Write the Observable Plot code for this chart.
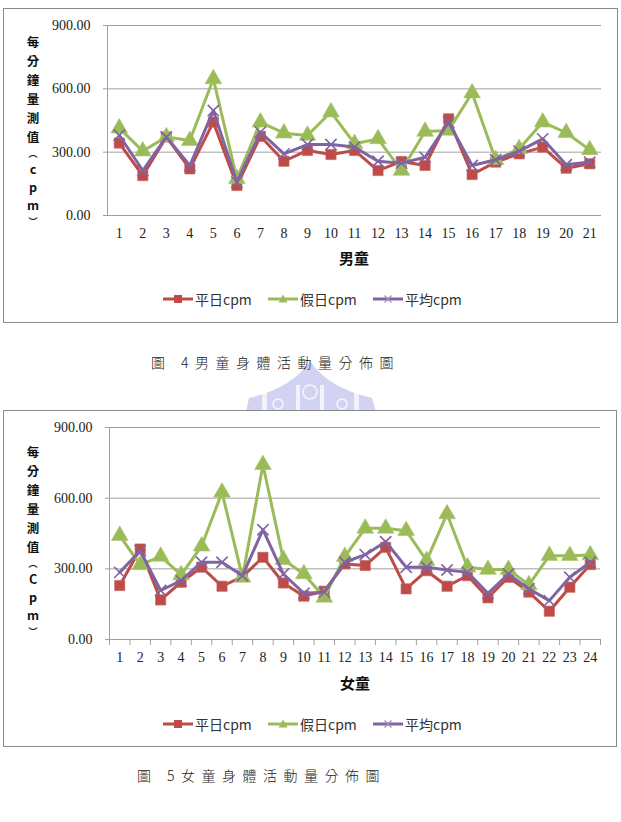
<!DOCTYPE html>
<html>
<head>
<meta charset="utf-8">
<script src="https://cdn.jsdelivr.net/npm/d3@7"></script>
<script src="https://cdn.jsdelivr.net/npm/@observablehq/plot@0.6"></script>
<style>
  html, body { margin: 0; padding: 0; background: #fff; }
  body { width: 621px; height: 822px; position: relative; overflow: hidden; font-family: "Noto Sans CJK TC", "Noto Sans", sans-serif; }
  .frame { position: absolute; border: 1px solid #8a8a8a; box-sizing: border-box; }
  .ych { position: absolute; font-size: 12.5px; font-weight: bold; color: #111; line-height: 1; transform: translate(-50%, -50%); }
  .ych.p { font-size: 9px; }
  .xlab { position: absolute; font-size: 15px; font-weight: bold; color: #111; transform: translateX(-50%); }
  .leg { position: absolute; display: flex; align-items: center; font-size: 14px; color: #333; }
  .leg svg { display: block; }
  .cap { position: absolute; font-size: 14px; font-weight: 300; letter-spacing: 6.5px; color: #222; white-space: nowrap; }
</style>
</head>
<body>
<script>
// ---------- data ----------
const boysIds = [1,2,3,4,5,6,7,8,9,10,11,12,13,14,15,16,17,18,19,20,21];
const boysWeekday = [343,189,372,221,442,142,375,257,308,289,308,213,256,237,458,194,253,292,324,224,245];
const boysHoliday = [414,305,372,355,647,174,442,390,379,490,340,363,213,398,403,580,264,316,442,392,311];
const boysAverage = [380,213,372,237,497,158,395,292,336,336,324,257,248,276,442,237,264,305,363,240,253];

const girlsIds = [1,2,3,4,5,6,7,8,9,10,11,12,13,14,15,16,17,18,19,20,21,22,23,24];
const girlsWeekday = [229,384,168,243,307,226,267,349,240,184,205,321,314,391,215,292,226,271,177,264,201,120,222,318];
const girlsHoliday = [441,317,353,274,396,625,264,742,339,278,179,352,472,472,462,335,533,307,297,297,232,356,356,359];
const girlsAverage = [285,377,208,250,328,328,271,466,278,196,201,328,360,415,307,307,295,285,196,278,215,165,264,328];

const yTicks = [0, 300, 600, 900];
const seriesNames = ["平日cpm", "假日cpm", "平均cpm"];
const seriesColors = ["#BE4B48", "#9BBB59", "#8064A2"];
const seriesSymbols = ["square", "triangle", "times"];
const yLabelBoys = ["每","分","鐘","量","測","值","︵","c","p","m","︶"];
const yLabelGirls = ["每","分","鐘","量","測","值","︵","C","p","m","︶"];

// ---------- helpers ----------
function tableOf(ids, vals) { return ids.map((id, i) => ({id, v: vals[i]})); }

function makeChart({ids, series, top, height, marginTop, marginBottom, marginLeft, marginRight, xTicks}) {
  const n = ids.length;
  const grid = "#a0a0a0";
  const marks = [
    Plot.ruleY([300, 600, 900], {stroke: grid, strokeWidth: 1}),
    Plot.ruleY([0], {stroke: grid, strokeWidth: 1}),
    Plot.ruleX([0.5], {stroke: grid, strokeWidth: 1}),
    Plot.axisY(yTicks, {tickSize: 4, stroke: grid, tickPadding: 13, tickFormat: d => d.toFixed(2), label: null, fill: "#222"}),
    Plot.axisX(ids, {tickSize: 0, tickPadding: 13, label: null, fill: "#222"})
  ];
  if (xTicks) {
    const bounds = [0.5, ...ids.map(d => d + 0.5)];
    marks.push(Plot.axisX(bounds, {tickSize: 6, stroke: grid, tickFormat: () => "", label: null}));
  }
  series.forEach((vals, k) => {
    const data = tableOf(ids, vals);
    marks.push(Plot.line(data, {x: "id", y: "v", stroke: seriesColors[k], strokeWidth: 3, strokeLinejoin: "round"}));
    if (seriesSymbols[k] === "times") {
      marks.push(Plot.dot(data, {x: "id", y: "v", symbol: "times", r: 5.2, stroke: seriesColors[k], strokeWidth: 1.6, fill: "none"}));
    } else if (seriesSymbols[k] === "square") {
      marks.push(Plot.dot(data, {x: "id", y: "v", symbol: "square", r: 5.8, fill: seriesColors[k], stroke: "#c86a66", strokeWidth: 0.6}));
    } else {
      marks.push(Plot.dot(data, {x: "id", y: "v", symbol: "triangle", r: 6.2, fill: seriesColors[k], stroke: "#a7c46c", strokeWidth: 0.6}));
    }
  });
  const svg = Plot.plot({
    width: 621, height, marginTop, marginBottom, marginLeft, marginRight,
    x: {type: "linear", domain: [0.5, n + 0.5]},
    y: {domain: [0, 900]},
    style: {fontFamily: "'Liberation Serif', serif", fontSize: "14px", background: "transparent", overflow: "visible"},
    marks
  });
  svg.style.position = "absolute";
  svg.style.left = "0px";
  svg.style.top = top + "px";
  document.body.appendChild(svg);
}

function legendSwatch(k) {
  const ns = "http://www.w3.org/2000/svg";
  const s = document.createElementNS(ns, "svg");
  s.setAttribute("width", 32); s.setAttribute("height", 14);
  const c = seriesColors[k];
  let inner = `<line x1="1" y1="7" x2="31" y2="7" stroke="${c}" stroke-width="3"/>`;
  if (k === 0) inner += `<rect x="12" y="3" width="8" height="8" fill="${c}"/>`;
  if (k === 1) inner += `<path d="M16,2.5 L20.5,10.5 L11.5,10.5 Z" fill="${c}"/>`;
  if (k === 2) inner += `<path d="M12.5,3.5 L19.5,10.5 M19.5,3.5 L12.5,10.5" stroke="#a08cc0" stroke-width="1.2"/>`;
  s.innerHTML = inner;
  return s;
}

function addLegend(y) {
  const xs = [162, 267, 372];
  xs.forEach((x, k) => {
    const d = document.createElement("div");
    d.className = "leg";
    d.style.left = x + "px";
    d.style.top = (y - 9) + "px";
    d.appendChild(legendSwatch(k));
    const t = document.createElement("span");
    t.textContent = seriesNames[k];
    t.style.marginLeft = "1px";
    d.appendChild(t);
    document.body.appendChild(d);
  });
}

function addDiv(cls, text, css) {
  const d = document.createElement("div");
  d.className = cls;
  d.textContent = text;
  Object.assign(d.style, css);
  document.body.appendChild(d);
  return d;
}

function addYLabel(chars, x, y0) {
  const offs = [0, 19, 38, 57, 76, 95, 111, 127, 145, 163, 179];
  chars.forEach((ch, i) => {
    const cls = (ch === "︵" || ch === "︶") ? "ych p" : "ych";
    addDiv(cls, ch, {left: x + "px", top: (y0 + offs[i]) + "px"});
  });
}

// ---------- watermark (document decoration) ----------
const wm = document.createElementNS("http://www.w3.org/2000/svg", "svg");
wm.setAttribute("width", 621); wm.setAttribute("height", 822);
wm.style.position = "absolute"; wm.style.left = "0"; wm.style.top = "0";
wm.innerHTML = `<path d="M246,412 L249,398 Q292,388 310,361 Q328,388 372,398 L376,412 Z" fill="#d2d2f2"/>
<rect x="262" y="393" width="5" height="19" fill="#fff" opacity="0.7"/>
<rect x="296" y="385" width="4" height="27" fill="#fff" opacity="0.7"/>
<rect x="320" y="385" width="4" height="27" fill="#fff" opacity="0.7"/>
<rect x="354" y="393" width="5" height="19" fill="#fff" opacity="0.7"/>
<circle cx="310" cy="392" r="7" fill="none" stroke="#fff" stroke-width="1.5" opacity="0.8"/>
<circle cx="278" cy="404" r="5" fill="none" stroke="#fff" stroke-width="1.5" opacity="0.8"/>
<circle cx="342" cy="404" r="5" fill="none" stroke="#fff" stroke-width="1.5" opacity="0.8"/>`;
document.body.appendChild(wm);

// ---------- frames ----------
const f1 = document.createElement("div");
f1.className = "frame";
Object.assign(f1.style, {left: "3px", top: "8px", width: "615px", height: "315px", background: "#fff"});
document.body.appendChild(f1);

const f2 = document.createElement("div");
f2.className = "frame";
Object.assign(f2.style, {left: "3px", top: "410px", width: "614px", height: "337px", background: "#fff"});
document.body.appendChild(f2);

// ---------- chart 1 (boys) ----------
makeChart({ids: boysIds, series: [boysWeekday, boysHoliday, boysAverage],
  top: 0, height: 250, marginTop: 25, marginBottom: 35, marginLeft: 107, marginRight: 20, xTicks: false});
addYLabel(yLabelBoys, 33, 42);
addDiv("xlab", "男童", {left: "354px", top: "247px"});
addLegend(298);
addDiv("cap", "圖 4男童身體活動量分佈圖", {left: "151px", top: "352px"});

// ---------- chart 2 (girls) ----------
makeChart({ids: girlsIds, series: [girlsWeekday, girlsHoliday, girlsAverage],
  top: 400, height: 270, marginTop: 27, marginBottom: 31, marginLeft: 109, marginRight: 21, xTicks: true});
addYLabel(yLabelGirls, 33, 452);
addDiv("xlab", "女童", {left: "355px", top: "672px"});
addLegend(723);
addDiv("cap", "圖 5女童身體活動量分佈圖", {left: "137px", top: "765px"});
</script>
</body>
</html>
